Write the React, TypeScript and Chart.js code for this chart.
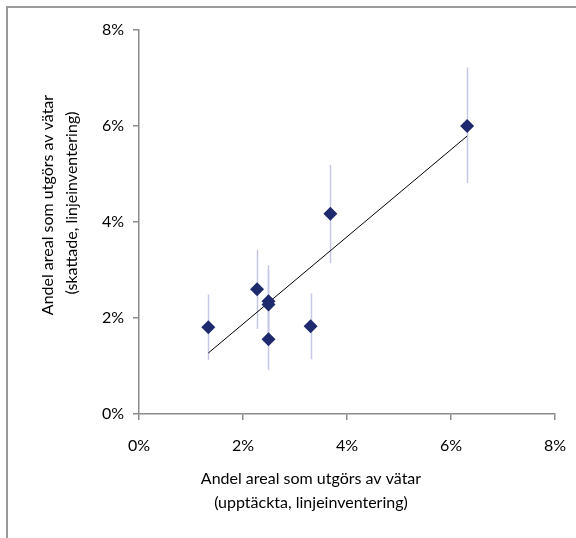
import React, { useEffect, useRef } from "react";
import { Chart, registerables } from "chart.js";

Chart.register(...registerables);

// Detected share (x, %) vs estimated share (y, %)
const detectedPct = [1.333, 2.27, 2.49, 2.49, 2.49, 3.3, 3.68, 6.31];
const estimatedPct = [1.806, 2.6, 2.35, 2.28, 1.556, 1.83, 4.17, 6.0];
const errLowPct = [1.125, 1.77, 1.6, 1.55, 0.92, 1.14, 3.14, 4.81];
const errHighPct = [2.49, 3.42, 3.1, 3.0, 2.2, 2.51, 5.19, 7.22];

// Linear trend line end points
const trendX = [1.333, 6.31];
const trendY = [1.27, 5.79];

const axisTicks = [0, 2, 4, 6, 8];
const xTitle = ["Andel areal som utgörs av vätar", "(upptäckta, linjeinventering)"];
const yTitle = ["Andel areal som utgörs av vätar", "(skattade, linjeinventering)"];

const FONT = "Lato, 'Open Sans', sans-serif";
const FONT_SIZE = 16;

const errorBarPlugin = {
  id: "errorBars",
  beforeDatasetsDraw(chart: any) {
    const { ctx, scales } = chart;
    const xs = scales.x;
    const ys = scales.y;
    ctx.save();
    ctx.strokeStyle = "#c6c6e6";
    ctx.lineWidth = 1.5;
    for (let i = 0; i < detectedPct.length; i++) {
      const px = Math.round(xs.getPixelForValue(detectedPct[i])) + 0.5;
      ctx.beginPath();
      ctx.moveTo(px, ys.getPixelForValue(errLowPct[i]));
      ctx.lineTo(px, ys.getPixelForValue(errHighPct[i]));
      ctx.stroke();
    }
    ctx.restore();
  },
};

const framePlugin = {
  id: "frameAndTitles",
  afterDraw(chart: any) {
    const { ctx, width, height } = chart;
    ctx.save();
    ctx.strokeStyle = "#9a9a9a";
    ctx.lineWidth = 2;
    ctx.beginPath();
    ctx.moveTo(7, height);
    ctx.lineTo(7, 7);
    ctx.lineTo(width, 7);
    ctx.stroke();

    ctx.fillStyle = "#000";
    ctx.font = `${FONT_SIZE}px ${FONT}`;
    ctx.textAlign = "center";
    ctx.textBaseline = "middle";
    ctx.fillText(xTitle[0], 311, 479);
    ctx.fillText(xTitle[1], 311, 503);

    ctx.save();
    ctx.translate(47.5, 205);
    ctx.rotate(-Math.PI / 2);
    ctx.fillText(yTitle[0], 0, 0);
    ctx.restore();
    ctx.save();
    ctx.translate(71.5, 203);
    ctx.rotate(-Math.PI / 2);
    ctx.fillText(yTitle[1], 0, 0);
    ctx.restore();
    ctx.restore();
  },
};

export default function App() {
  const ref = useRef<HTMLCanvasElement | null>(null);

  useEffect(() => {
    document.body.style.margin = "0";
    const canvas = ref.current;
    if (!canvas) return;
    const chart = new Chart(canvas, {
      type: "scatter",
      data: {
        datasets: [
          {
            type: "scatter",
            label: "Vätar",
            data: detectedPct.map((x, i) => ({ x, y: estimatedPct[i] })),
            pointStyle: "rectRot",
            pointRadius: 7,
            pointHoverRadius: 7,
            backgroundColor: "#1f2a6e",
            borderColor: "#1f2a6e",
            borderWidth: 0,
            order: 0,
          },
          {
            type: "line",
            label: "Trend",
            data: trendX.map((x, i) => ({ x, y: trendY[i] })),
            borderColor: "#000",
            borderWidth: 1,
            pointRadius: 0,
            fill: false,
            order: 1,
          },
        ],
      },
      options: {
        responsive: false,
        animation: false,
        layout: { padding: { left: 0, right: 21, top: 30, bottom: 0 } },
        plugins: {
          legend: { display: false },
          tooltip: { enabled: false },
          title: { display: false },
        },
        scales: {
          x: {
            type: "linear",
            min: 0,
            max: 8,
            afterBuildTicks(scale: any) {
              scale.ticks = axisTicks.map((v) => ({ value: v }));
            },
            afterFit(scale: any) {
              scale.height = 124;
              scale.paddingLeft = 0;
              scale.paddingRight = 0;
            },
            grid: {
              drawOnChartArea: false,
              drawTicks: true,
              tickLength: 6,
              color: "#8c8c8c",
              lineWidth: 1.5,
            },
            border: { display: true, color: "#8c8c8c", width: 1.5 },
            ticks: {
              padding: 16,
              color: "#000",
              font: { family: FONT, size: FONT_SIZE },
              maxRotation: 0,
              callback: (v: any) => `${v}%`,
            },
          },
          y: {
            type: "linear",
            min: 0,
            max: 8,
            afterBuildTicks(scale: any) {
              scale.ticks = axisTicks.map((v) => ({ value: v }));
            },
            afterFit(scale: any) {
              scale.width = 139;
              scale.paddingTop = 0;
              scale.paddingBottom = 0;
            },
            grid: {
              drawOnChartArea: false,
              drawTicks: true,
              tickLength: 6,
              color: "#8c8c8c",
              lineWidth: 1.5,
            },
            border: { display: true, color: "#8c8c8c", width: 1.5 },
            ticks: {
              padding: 9,
              color: "#000",
              font: { family: FONT, size: FONT_SIZE },
              callback: (v: any) => `${v}%`,
            },
          },
        },
      },
      plugins: [errorBarPlugin, framePlugin],
    });
    return () => chart.destroy();
  }, []);

  return (
    <canvas
      ref={ref}
      width={576}
      height={538}
      style={{ display: "block", width: 576, height: 538 }}
    />
  );
}
